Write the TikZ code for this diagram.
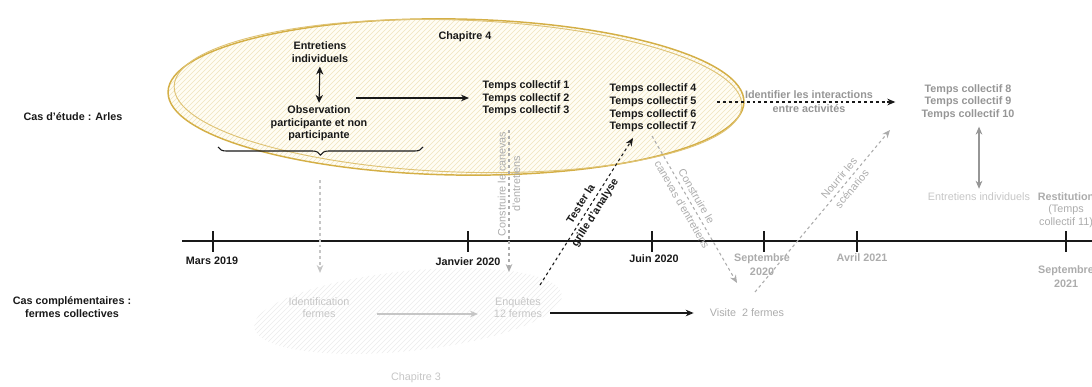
\documentclass[tikz,border=0pt]{standalone}
\usepackage{fontspec}
\setmainfont{Liberation Sans}
\usetikzlibrary{arrows.meta,decorations.pathreplacing}
\definecolor{gold}{RGB}{212,175,70}
\definecolor{cream}{RGB}{255,253,244}
\definecolor{hatchy}{RGB}{240,228,190}
\definecolor{hatchg}{RGB}{236,236,236}
\definecolor{ink}{RGB}{25,25,25}
\definecolor{midgray}{RGB}{150,150,150}
\definecolor{softgray}{RGB}{172,172,172}
\definecolor{palegray}{RGB}{198,198,198}
\begin{document}
\begin{tikzpicture}[x=0.75pt,y=-0.75pt,
    every node/.style={inner sep=0pt, align=center, text=ink, font=\fontsize{8.1}{9.5}\selectfont},
    bold/.style={font=\fontsize{8.1}{9.5}\selectfont\bfseries},
    arr/.style={draw=ink, line width=0.8pt, -{Stealth[length=6pt,width=5pt]}},
    dblarr/.style={draw=ink, line width=0.8pt, {Stealth[length=6pt,width=5.5pt]}-{Stealth[length=6pt,width=5.5pt]}},
    blackdash/.style={arr, dash pattern=on 2.2pt off 2.2pt},
    graydash/.style={draw=softgray, line width=0.8pt, dash pattern=on 2.2pt off 2.2pt, -{Stealth[length=6pt,width=5pt]}},
    grayboth/.style={draw=midgray, line width=0.8pt, {Stealth[length=6pt,width=5pt]}-{Stealth[length=6pt,width=5pt]}},
    palearr/.style={draw=palegray, line width=0.8pt, -{Stealth[length=6pt,width=5pt]}}]
    \useasboundingbox (0,0) rectangle (1092,386);
    \begin{scope}
    \clip[rotate around={-1:(456,97)}] (456,97) ellipse [x radius=216pt, y radius=58.5pt];
    \fill[cream] (150,0) rectangle (760,190);
    \foreach \i in {0,5,...,800}
        \draw[hatchy, line width=0.35pt] (\i,190) -- ++(190,-190);
    \end{scope}
    \draw[gold, line width=1.1pt, rotate around={-1:(456,97)}] (456,97) ellipse [x radius=216pt, y radius=58.5pt];
    \draw[gold!75, line width=0.7pt, rotate around={-2:(458,96)}] (458,96) ellipse [x radius=213pt, y radius=57pt];
    \begin{scope}
    \clip[rotate around={6:(408,311)}] (408,311) ellipse [x radius=116pt, y radius=30pt];
    \foreach \i in {100,105,...,600}
        \draw[hatchg, line width=0.4pt] (\i,360) -- ++(100,-100);
    \end{scope}
    \node[bold] (arles) at (73,117) {Cas d'étude : Arles};
    \node[bold] (compl) at (72,307) {Cas complémentaires :\\fermes collectives};
    \node[bold] (ch4) at (465,37) {Chapitre 4};
    \node[bold] (entr) at (320,52) {Entretiens\\individuels};
    \node[bold] (obs) at (319,123.5) {Observation\\participante et non\\participante};
    \node[bold] (tc13) at (526,98.5) {Temps collectif 1\\Temps collectif 2\\Temps collectif 3};
    \node[bold] (tc47) at (653,108) {Temps collectif 4\\Temps collectif 5\\Temps collectif 6\\Temps collectif 7};
    \node[bold, text=midgray] (tc810) at (968,102) {Temps collectif 8\\Temps collectif 9\\Temps collectif 10};
    \node[text=palegray] (ent2) at (979,197) {Entretiens individuels};
    \node[bold, text=softgray] (resti) at (1066,197) {Restitution};
    \node[text=softgray] (resti2) at (1066,216.5) {(Temps\\collectif 11)};
    \node[text=palegray] (ident) at (319,307.5) {Identification\\fermes};
    \node[text=palegray] (enq) at (518,307.5) {Enquêtes\\12 fermes};
    \node[text=softgray] (visite) at (747,313) {Visite\ \ 2 fermes};
    \node[text=palegray] (ch3) at (416,378) {Chapitre 3};
    \draw[ink, line width=0.9pt] (182,241) -- (1092,241);
    \foreach \t in {213,468,652,764,857,1066}
        \draw[ink, line width=0.9pt] (\t,231) -- (\t,252);
    \node[bold] (mars) at (212,261) {Mars 2019};
    \node[bold] (janv) at (468,262) {Janvier 2020};
    \node[bold] (juin) at (654,259) {Juin 2020};
    \node[bold, text=softgray] (sept20) at (762,264.5) {Septembre\\[1.5pt]2020};
    \node[bold, text=softgray] (avril) at (862,258) {Avril 2021};
    \node[bold, text=softgray] (sept21) at (1066,276.5) {Septembre\\[1.5pt]2021};
    \draw[ink, line width=0.8pt, decorate, decoration={brace, mirror, amplitude=6pt}] (218,147) coordinate (br1) -- (423,147) coordinate (br2);
    \coordinate (b1) at (320,180);
    \draw[graydash, draw=palegray] (b1) -- (b1 |- ident.north) [shorten >=18pt];
    \draw[dblarr, shorten <=3pt, shorten >=2pt] (entr.south) -- (obs.north);
    \coordinate (o1) at (356,98);
    \draw[arr, shorten >=10pt] (o1) -- (tc13.west |- o1);
    \draw[blackdash, shorten <=15.5pt, shorten >=19.5pt] (tc47.east |- tc810.west) -- node[bold, text=midgray] {Identifier les interactions\\[1pt]entre activités} (tc810.west);
    \coordinate (c1a) at (509,130);
    \coordinate (c1b) at (509,272);
    \draw[graydash] (c1a) -- node[pos=0.38, rotate=90, text=softgray] {Construire le canevas\\[1.5pt]d'entretiens} (c1b);
    \coordinate (t1) at (540,285);
    \coordinate (t2) at (633,138);
    \draw[blackdash] (t1) -- node[pos=0.52, rotate=57.7, bold] {Tester la\\[3pt]grille d'analyse} (t2);
    \coordinate (c2a) at (652,136);
    \coordinate (c2b) at (737,283);
    \draw[graydash] (c2a) -- node[pos=0.44, rotate=-60, text=softgray] {Construire le\\[3pt]canevas d'entretiens} (c2b);
    \coordinate (n1) at (755,292);
    \coordinate (n2) at (890,130);
    \draw[graydash] (n1) -- node[pos=0.67, rotate=50.2, text=softgray] {Nourrir les\\[3pt]scénarios} (n2);
    \draw[grayboth, shorten <=3pt, shorten >=5pt] (ent2.north) -- (ent2.north |- tc810.south);
    \coordinate (ia) at (377,314);
    \coordinate (ib) at (478,314);
    \draw[palearr] (ia) -- (ib);
    \draw[arr, shorten <=6pt, shorten >=12pt] (enq.east |- visite) -- (visite.west);
\end{tikzpicture}
\end{document}
